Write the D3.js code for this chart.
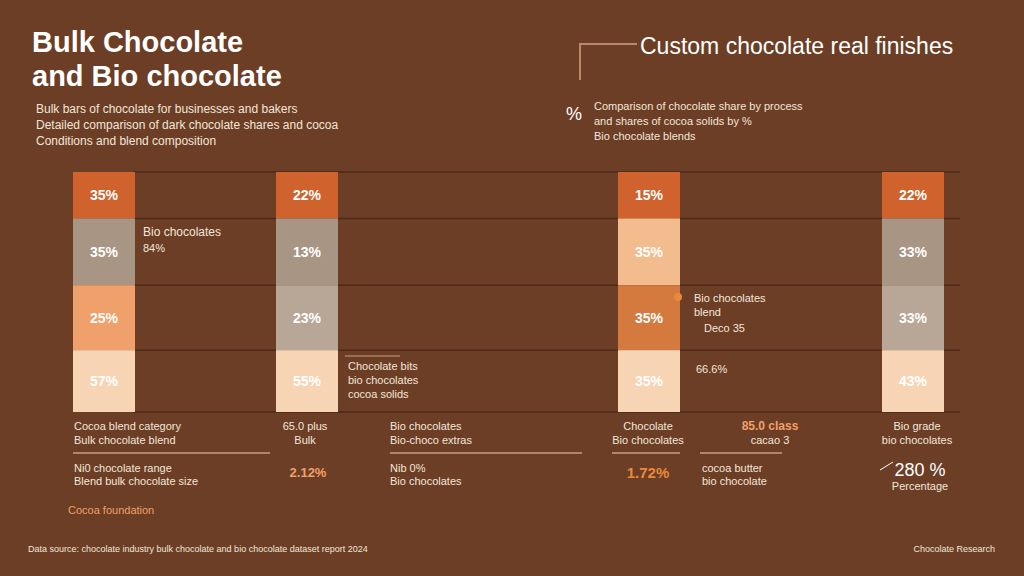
<!DOCTYPE html>
<html><head><meta charset="utf-8">
<script src="https://cdn.jsdelivr.net/npm/d3@7"></script>
<style>body{margin:0;background:#6b3e25;}svg{display:block}</style>
</head><body><svg id="c" width="1024" height="576"></svg>
<script>
const columns = ["Bulk A","Bulk B","Bio A","Bio B"];
const segments = ["top","upper","lower","base"];
const segmentShare = [0.75,1.08,1.05,1.0];
const labels = [["35%","35%","25%","57%"],["22%","13%","23%","55%"],["15%","35%","35%","35%"],["22%","33%","33%","43%"]];
const colors = [["#d0622d","#a89583","#f0a06a","#f6d4b4"],["#d0622d","#a89583","#b8a796","#f6d4b4"],["#d0622d","#f3bc8f","#d47a3e","#f6d4b4"],["#d0622d","#a89583","#b8a796","#f6d4b4"]];
const colX = [73,276,618,882];
const svg = d3.select("#c");
const W=1024,H=576;
svg.append("rect").attr("width",W).attr("height",H).attr("fill","#6b3e25");
const cum = [0]; segmentShare.forEach(s=>cum.push(cum[cum.length-1]+s));
const y = d3.scaleLinear().domain([0,cum[cum.length-1]]).range([172,412]);
const bw = 62;
svg.selectAll("line.g").data(cum).join("line")
 .attr("x1",133).attr("x2",960).attr("y1",d=>y(d)).attr("y2",d=>y(d))
 .attr("stroke","#4e2a17").attr("stroke-width",1.5);
columns.forEach((c,i)=>{
  const g = svg.append("g");
  g.selectAll("rect").data(segments).join("rect")
   .attr("x",colX[i]).attr("y",(d,j)=>y(cum[j])).attr("width",bw).attr("height",(d,j)=>y(cum[j+1])-y(cum[j]))
   .attr("fill",(d,j)=>colors[i][j]);
  g.selectAll("text").data(segments).join("text")
   .attr("x",colX[i]+bw/2).attr("y",(d,j)=>(y(cum[j])+y(cum[j+1]))/2+5).attr("text-anchor","middle")
   .attr("font-family","Liberation Sans").attr("font-weight","bold").attr("font-size",14)
   .attr("fill","#fff").text((d,j)=>labels[i][j]);
});
const T=(x,yy,s,t,o={})=>svg.append("text").attr("x",x).attr("y",yy).attr("font-size",s)
 .attr("font-family","Liberation Sans").attr("fill",o.fill||"#f3e6da").attr("font-weight",o.w||"normal")
 .attr("text-anchor",o.a||"start").text(t);
T(32,52,29,"Bulk Chocolate",{w:"bold",fill:"#fff"});
T(32,86,29,"and Bio chocolate",{w:"bold",fill:"#fff"});
T(36,113,12,"Bulk bars of chocolate for businesses and bakers");
T(36,129,12,"Detailed comparison of dark chocolate shares and cocoa");
T(36,145,12,"Conditions and blend composition");
svg.append("path").attr("d","M637,44 H580 V80").attr("fill","none").attr("stroke","#b88a6a").attr("stroke-width",2);
T(640,54,23,"Custom chocolate real finishes",{fill:"#fff"});
T(566,120,18,"%",{fill:"#fff"});
T(594,110,11,"Comparison of chocolate share by process");
T(594,125,11,"and shares of cocoa solids by %");
T(594,140,11,"Bio chocolate blends");
T(143,236,12,"Bio chocolates"); T(143,252,11,"84%");
T(348,370,11,"Chocolate bits"); T(348,384,11,"bio chocolates"); T(348,398,11,"cocoa solids");
svg.append("line").attr("x1",345).attr("x2",400).attr("y1",356).attr("y2",356).attr("stroke","#c9a080");
T(694,302,11,"Bio chocolates"); T(694,316,11,"blend"); T(704,332,11,"Deco 35");
svg.append("circle").attr("cx",678).attr("cy",297).attr("r",4).attr("fill","#e88a3c");
T(696,373,11,"66.6%");
svg.selectAll("line.b").data([[73,270],[390,582],[612,680],[700,782]]).join("line")
 .attr("x1",d=>d[0]).attr("x2",d=>d[1]).attr("y1",453).attr("y2",453).attr("stroke","#c9a080").attr("stroke-width",1.5);
T(74,430,11,"Cocoa blend category"); T(74,444,11,"Bulk chocolate blend");
T(74,472,11,"Ni0 chocolate range"); T(74,485,11,"Blend bulk chocolate size");
T(305,430,11,"65.0 plus",{a:"middle"}); T(305,444,11,"Bulk",{a:"middle"});
T(308,477,13,"2.12%",{a:"middle",fill:"#f0a06a",w:"bold"});
T(390,430,11,"Bio chocolates"); T(390,444,11,"Bio-choco extras");
T(390,472,11,"Nib 0%"); T(390,485,11,"Bio chocolates");
T(648,430,11,"Chocolate",{a:"middle"}); T(648,444,11,"Bio chocolates",{a:"middle"});
T(648,478,15,"1.72%",{a:"middle",fill:"#e88a3c",w:"bold"});
T(702,472,11,"cocoa butter"); T(702,485,11,"bio chocolate");
T(770,430,12,"85.0 class",{a:"middle",fill:"#f0a06a",w:"bold"}); T(770,444,11,"cacao 3",{a:"middle"});
T(917,430,11,"Bio grade",{a:"middle"}); T(917,444,11,"bio chocolates",{a:"middle"});
T(920,476,18,"280 %",{a:"middle",fill:"#fff"}); T(920,490,11,"Percentage",{a:"middle"});
svg.append("path").attr("d","M880,470 L893,462").attr("stroke","#fff");
T(68,514,11,"Cocoa foundation",{fill:"#f0a06a"});
T(28,552,9,"Data source: chocolate industry bulk chocolate and bio chocolate dataset report 2024");
T(995,552,9,"Chocolate Research",{a:"end"});
</script></body></html>
